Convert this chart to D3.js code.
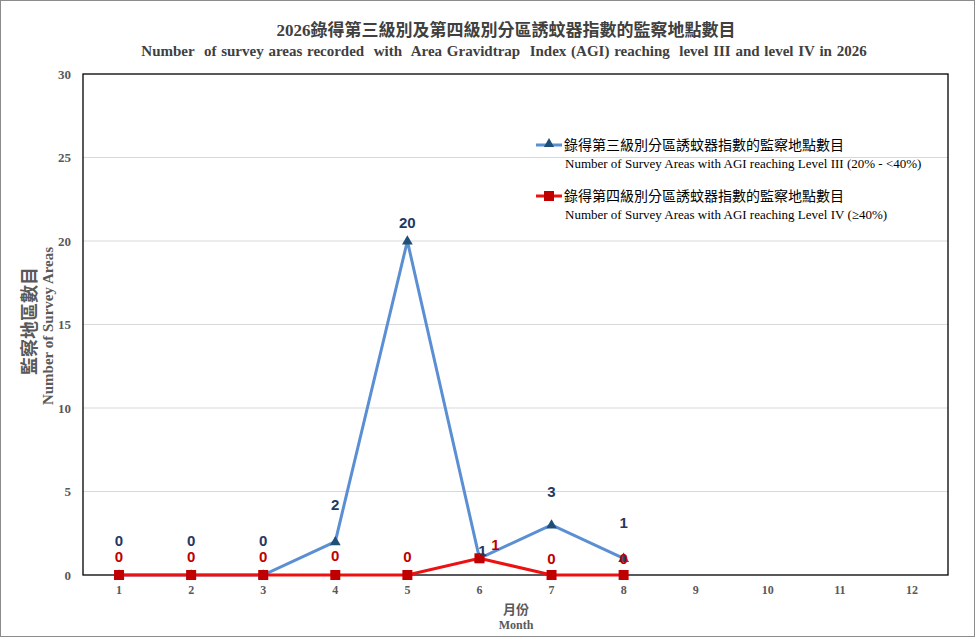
<!DOCTYPE html>
<html>
<head>
<meta charset="utf-8">
<script src="https://cdn.jsdelivr.net/npm/d3@7"></script>
<style>
  body { margin: 0; background: #fff; }
  svg { display: block; }
  .tick text { font-family: "Liberation Serif", "Times New Roman", serif; font-weight: bold; fill: #595959; }
</style>
</head>
<body>
<svg id="chart"></svg>
<script>
// data
const months = [1, 2, 3, 4, 5, 6, 7, 8, 9, 10, 11, 12];
const level3 = [0, 0, 0, 2, 20, 1, 3, 1];
const level4 = [0, 0, 0, 0, 0, 1, 0, 0];
const yTicks = [0, 5, 10, 15, 20, 25, 30];

// label nudges (dx, dy) so the labels sit where they do in the original
const l3Nudge = [[0, -29], [0, -29], [0, -29], [0, -32], [0, -13], [3, -2], [0, -28], [0, -30]];
const l4Nudge = [[0, -13], [0, -13], [0, -13], [0, -14], [0, -13], [16, -8], [0, -11], [0, -11]];

const width = 976, height = 639;
const margin = {top: 74, right: 28, bottom: 64, left: 83};
const innerW = width - margin.left - margin.right;
const innerH = height - margin.top - margin.bottom;

const svg = d3.select('#chart')
    .attr('width', width)
    .attr('height', height);

// outer frame
svg.append('rect')
    .attr('x', 0.5).attr('y', 0.5)
    .attr('width', width - 2).attr('height', height - 3)
    .attr('fill', '#fff')
    .attr('stroke', '#8c8c8c');

const xScale = d3.scaleBand()
    .domain(months)
    .range([0, innerW]);
const x = d => xScale(d) + xScale.bandwidth() / 2;

const yScale = d3.scaleLinear()
    .domain([0, 30])
    .range([innerH, 0]);

const chart = svg.append('g')
    .attr('transform', `translate(${margin.left},${margin.top})`);

// gridlines
chart.append('g')
    .selectAll('line')
    .data(yTicks.slice(1, -1))
    .join('line')
    .attr('x1', 0).attr('x2', innerW)
    .attr('y1', d => yScale(d)).attr('y2', d => yScale(d))
    .attr('stroke', '#d9d9d9');

// axes
const yAxis = d3.axisLeft(yScale)
    .tickValues(yTicks)
    .tickSize(0)
    .tickPadding(12);
const yAxisG = chart.append('g').call(yAxis);
yAxisG.select('.domain').remove();
yAxisG.selectAll('text').style('font-size', '13px');

const xAxis = d3.axisBottom(xScale)
    .tickSize(0)
    .tickPadding(10);
const xAxisG = chart.append('g')
    .attr('transform', `translate(0,${innerH})`)
    .call(xAxis);
xAxisG.select('.domain').remove();
xAxisG.selectAll('text').style('font-size', '12px');

// plot border
chart.append('rect')
    .attr('width', innerW).attr('height', innerH)
    .attr('fill', 'none')
    .attr('stroke', '#000')
    .attr('stroke-width', 1.3);

const line = d3.line()
    .x((d, i) => x(months[i]))
    .y(d => yScale(d));

// level III series
chart.append('path')
    .datum(level3)
    .attr('d', line)
    .attr('fill', 'none')
    .attr('stroke', '#5b8fd3')
    .attr('stroke-width', 3);

// level IV series
chart.append('path')
    .datum(level4)
    .attr('d', line)
    .attr('fill', 'none')
    .attr('stroke', '#ee1111')
    .attr('stroke-width', 3);

const tri = d3.symbol().type(d3.symbolTriangle).size(50);
chart.selectAll('.tri')
    .data(level3)
    .join('path')
    .attr('class', 'tri')
    .attr('d', tri)
    .attr('transform', (d, i) => `translate(${x(months[i])},${yScale(d) + 0.5})`)
    .attr('fill', '#1f4e79');

chart.selectAll('.sq')
    .data(level4)
    .join('rect')
    .attr('class', 'sq')
    .attr('x', (d, i) => x(months[i]) - 5)
    .attr('y', d => yScale(d) - 5)
    .attr('width', 10).attr('height', 10)
    .attr('fill', '#c00000');

// data labels
chart.selectAll('.lab3')
    .data(level3)
    .join('text')
    .attr('class', 'lab3')
    .attr('x', (d, i) => x(months[i]) + l3Nudge[i][0])
    .attr('y', (d, i) => yScale(d) + l3Nudge[i][1])
    .attr('text-anchor', 'middle')
    .style('font-family', 'Arial, "Liberation Sans", sans-serif')
    .style('font-weight', 'bold')
    .style('font-size', '15px')
    .attr('fill', '#1f3864')
    .text(d => d);

chart.selectAll('.lab4')
    .data(level4)
    .join('text')
    .attr('class', 'lab4')
    .attr('x', (d, i) => x(months[i]) + l4Nudge[i][0])
    .attr('y', (d, i) => yScale(d) + l4Nudge[i][1])
    .attr('text-anchor', 'middle')
    .style('font-family', 'Arial, "Liberation Sans", sans-serif')
    .style('font-weight', 'bold')
    .style('font-size', '15px')
    .attr('fill', '#c00000')
    .text(d => d);

// titles
const serif = '"Liberation Serif", "Times New Roman", "Noto Sans CJK TC", serif';
svg.append('text')
    .attr('x', 506).attr('y', 36)
    .attr('text-anchor', 'middle')
    .style('font-family', serif)
    .style('font-weight', 'bold')
    .style('font-size', '17px')
    .attr('fill', '#404040')
    .text('2026錄得第三級別及第四級別分區誘蚊器指數的監察地點數目');

svg.append('text')
    .attr('x', 504).attr('y', 56)
    .attr('text-anchor', 'middle')
    .style('font-family', serif)
    .style('font-weight', 'bold')
    .style('font-size', '15px')
    .style('word-spacing', '1px')
    .style('white-space', 'pre')
    .attr('fill', '#404040')
    .text('Number  of survey areas recorded  with  Area Gravidtrap  Index (AGI) reaching  level III and level IV in 2026');

// y-axis title
svg.append('text')
    .attr('transform', 'translate(36,321) rotate(-90)')
    .attr('text-anchor', 'middle')
    .style('font-family', serif)
    .style('font-weight', 'bold')
    .style('font-size', '18px')
    .attr('fill', '#595959')
    .text('監察地區數目');

svg.append('text')
    .attr('transform', 'translate(53,326) rotate(-90)')
    .attr('text-anchor', 'middle')
    .style('font-family', serif)
    .style('font-weight', 'bold')
    .style('font-size', '15px')
    .attr('fill', '#595959')
    .text('Number of Survey Areas');

// x-axis title
svg.append('text')
    .attr('x', 516).attr('y', 614)
    .attr('text-anchor', 'middle')
    .style('font-family', serif)
    .style('font-weight', 'bold')
    .style('font-size', '13px')
    .attr('fill', '#595959')
    .text('月份');

svg.append('text')
    .attr('x', 516).attr('y', 629)
    .attr('text-anchor', 'middle')
    .style('font-family', serif)
    .style('font-weight', 'bold')
    .style('font-size', '12px')
    .attr('fill', '#595959')
    .text('Month');

// legend
const legendItems = [
    {zh: '錄得第三級別分區誘蚊器指數的監察地點數目', en: 'Number of Survey Areas with AGI reaching Level III (20% - <40%)', color: '#5b8fd3', mark: 'tri'},
    {zh: '錄得第四級別分區誘蚊器指數的監察地點數目', en: 'Number of Survey Areas with AGI reaching Level IV (≥40%)', color: '#ee1111', mark: 'sq'}
];
const legend = svg.append('g').attr('transform', 'translate(536,145)');
const li = legend.selectAll('g')
    .data(legendItems)
    .join('g')
    .attr('transform', (d, i) => `translate(0,${i * 51})`);
li.append('line')
    .attr('x1', 0).attr('x2', 26)
    .attr('stroke', d => d.color)
    .attr('stroke-width', 3);
li.filter(d => d.mark === 'tri').append('path')
    .attr('d', d3.symbol().type(d3.symbolTriangle).size(45))
    .attr('transform', 'translate(13,-1)')
    .attr('fill', '#1f4e79');
li.filter(d => d.mark === 'sq').append('rect')
    .attr('x', 8).attr('y', -5).attr('width', 10).attr('height', 10)
    .attr('fill', '#c00000');
li.append('text')
    .attr('x', 28).attr('y', 5)
    .style('font-family', '"Noto Sans CJK TC", sans-serif')
    .style('font-size', '14px')
    .attr('fill', '#000')
    .text(d => d.zh);
li.append('text')
    .attr('x', 29).attr('y', 23)
    .style('font-family', '"Liberation Serif", "Times New Roman", serif')
    .style('font-size', '13px')
    .attr('fill', '#000')
    .text(d => d.en);
</script>
</body>
</html>
